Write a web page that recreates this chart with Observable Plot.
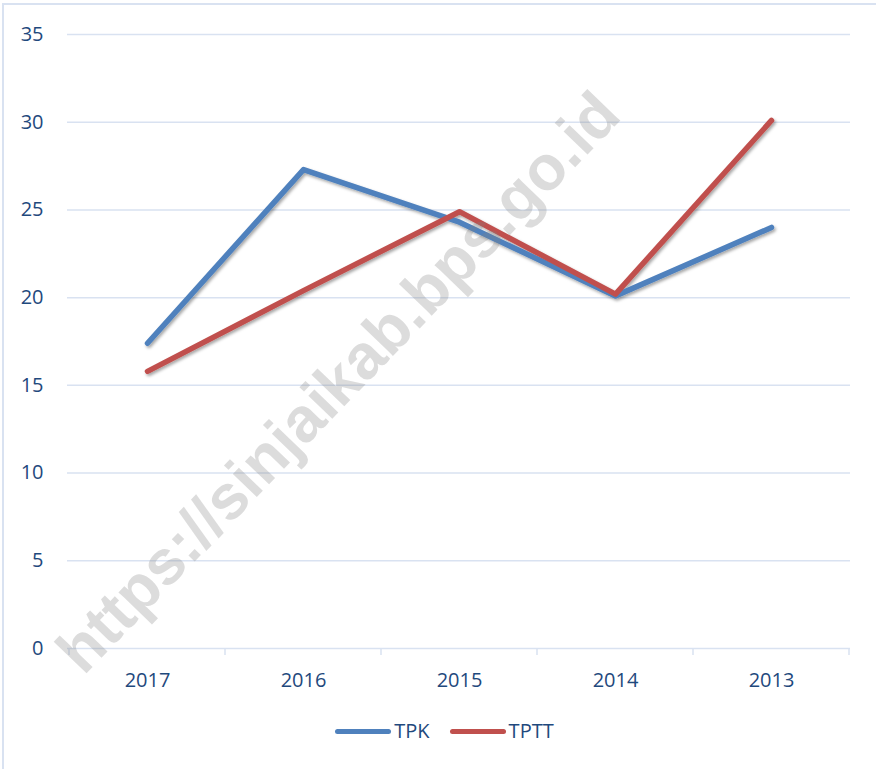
<!DOCTYPE html>
<html>
<head>
<meta charset="utf-8">
<script src="https://cdn.jsdelivr.net/npm/d3@7"></script>
<script src="https://cdn.jsdelivr.net/npm/@observablehq/plot@0.6"></script>
<style>
  body { margin: 0; background: #fff; font-family: "Open Sans", sans-serif; }
  #wrap { position: relative; width: 876px; height: 769px; overflow: hidden; background: #fff; }
  #bl { position: absolute; left: 2px; top: 3px; width: 2px; height: 766px; background: #d9e2f1; }
  #bt { position: absolute; left: 2px; top: 3px; width: 874px; height: 2px; background: #d9e2f1; }
  #chart { position: absolute; left: 0; top: 0; }
  #legend { position: absolute; left: 0; top: 716px; width: 876px; box-sizing: border-box; padding-left: 13px;
            display: flex; justify-content: center; align-items: center; gap: 20px;
            font-size: 20px; color: #1F497D; line-height: 30px; }
  .item { display: flex; align-items: center; }
  .sw { width: 56px; height: 5px; border-radius: 3px; margin-right: 3px; }
  #wm { position: absolute; left: 338px; top: 382px; transform: translate(-50%, -50%) rotate(-46deg);
        white-space: nowrap; font-family: "Liberation Sans", Arial, sans-serif; font-weight: bold;
        font-size: 63px; line-height: 1; color: rgba(128,128,128,0.28); pointer-events: none; }
</style>
</head>
<body>
<div id="wrap">
  <div id="bl"></div>
  <div id="bt"></div>
  <div id="chart"></div>
  <div id="legend"></div>
  <div id="wm">https://sinjaikab.bps.go.id</div>
</div>
<script>
// ---- data ----
const years = ["2017", "2016", "2015", "2014", "2013"];
const seriesNames = ["TPK", "TPTT"];
const tpk  = [17.4, 27.3, 24.3, 20.1, 24.0];
const tptt = [15.8, 20.4, 24.9, 20.2, 30.1];
const yTicks = [0, 5, 10, 15, 20, 25, 30, 35];
const colors = ["#4F81BD", "#C0504D"];

const textColor = "#1F497D";
const gridColor = "#d9e2f1";

const rows = [];
seriesNames.forEach((s, si) => {
  const vals = si === 0 ? tpk : tptt;
  years.forEach((y, i) => rows.push({ year: y, series: s, value: vals[i] }));
});

// category boundary ticks on the x axis (computed from the x scale)
function boundaryTicks(index, scales) {
  const x = scales.x, y = scales.y;
  const pos = years.map(d => x(d));
  const step = pos[1] - pos[0];
  const bounds = [pos[0] - step / 2, ...pos.map(p => p + step / 2)];
  const g = d3.create("svg:g");
  g.selectAll("line").data(bounds).join("line")
    .attr("x1", d => d).attr("x2", d => d)
    .attr("y1", y(0)).attr("y2", y(0) + 7)
    .attr("stroke", gridColor).attr("stroke-width", 1.5);
  return g.node();
}

const chart = Plot.plot({
  width: 876,
  height: 710,
  marginLeft: 67,
  marginRight: 26,
  marginTop: 34,
  marginBottom: 62,
  style: { fontFamily: '"Open Sans", sans-serif', fontSize: "20px", color: textColor, background: "transparent", overflow: "visible" },
  x: { type: "point", domain: years, padding: 0.5, label: null, tickSize: 0, tickPadding: 24 },
  y: { domain: [0, 35], ticks: yTicks, label: null, tickSize: 0, tickPadding: 24 },
  color: { domain: seriesNames, range: colors },
  marks: [
    Plot.ruleY(yTicks, { stroke: gridColor, strokeWidth: 1.5 }),
    boundaryTicks,
    Plot.line(rows, { x: "year", y: "value", z: "series", stroke: "series", strokeWidth: 5.5,
                      strokeLinecap: "round", strokeLinejoin: "round" })
  ]
});

// drop shadow on the lines
const svg = d3.select(chart);
const defs = svg.insert("defs", ":first-child");
const f = defs.append("filter").attr("id", "shadow").attr("x", "-10%").attr("y", "-10%").attr("width", "120%").attr("height", "120%");
f.append("feDropShadow").attr("dx", 1.5).attr("dy", 2).attr("stdDeviation", 1.5)
  .attr("flood-color", "#000").attr("flood-opacity", 0.35);
svg.selectAll('g[aria-label="line"]').attr("filter", "url(#shadow)");

document.getElementById("chart").appendChild(chart);

// legend
const legend = d3.select("#legend");
seriesNames.forEach((s, i) => {
  const it = legend.append("div").attr("class", "item");
  it.append("div").attr("class", "sw").style("background", colors[i]);
  it.append("span").text(s);
});
</script>
</body>
</html>
